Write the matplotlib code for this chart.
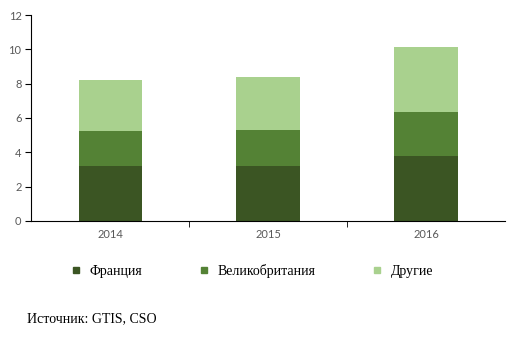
import matplotlib.pyplot as plt
from matplotlib.lines import Line2D
import numpy as np

years = ['2014', '2015', '2016']
france = [3.22, 3.20, 3.79]
uk = [2.02, 2.10, 2.56]
other = [2.95, 3.09, 3.78]
labels = ['Франция', 'Великобритания', 'Другие']
colors = ['#3b5523', '#548235', '#a9d18e']

fig = plt.figure(figsize=(5.2, 3.41), dpi=100)
ax = fig.add_axes([0.06, 0.352, 0.911, 0.604])

x = np.arange(len(years))
bottom = np.zeros(len(years))
for vals, c in zip([france, uk, other], colors):
    ax.bar(x, vals, width=0.4, bottom=bottom, color=c)
    bottom += np.array(vals)

ax.set_xlim(-0.5, 2.5)
ax.set_ylim(0, 12)
ax.set_yticks(range(0, 13, 2))
ax.set_xticks(x)
ax.set_xticklabels(years)
ax.set_xticks([0.5, 1.5], minor=True)
ax.tick_params(axis='x', which='major', length=0, pad=6)
ax.tick_params(axis='x', which='minor', length=4, direction='out')
ax.tick_params(axis='y', length=4, direction='out', pad=3)
for lab in ax.get_xticklabels() + ax.get_yticklabels():
    lab.set_fontfamily('Lato')
    lab.set_fontsize(8)
    lab.set_color('#595959')
ax.spines['top'].set_visible(False)
ax.spines['right'].set_visible(False)

handles = [Line2D([], [], marker='s', linestyle='none', markersize=4.5,
                  markerfacecolor=c, markeredgecolor=c) for c in colors]
fig.legend(handles, labels, loc='center left', bbox_to_anchor=(0.135, 0.205),
           ncol=3, frameon=False, columnspacing=4.0, handlelength=0.8,
           handletextpad=0.6, borderpad=0, borderaxespad=0,
           prop={'family': 'Liberation Serif', 'size': 10})

fig.text(0.052, 0.056, 'Источник: GTIS, CSO', family='Liberation Serif', fontsize=10)

fig.savefig('out.png', dpi=100)
